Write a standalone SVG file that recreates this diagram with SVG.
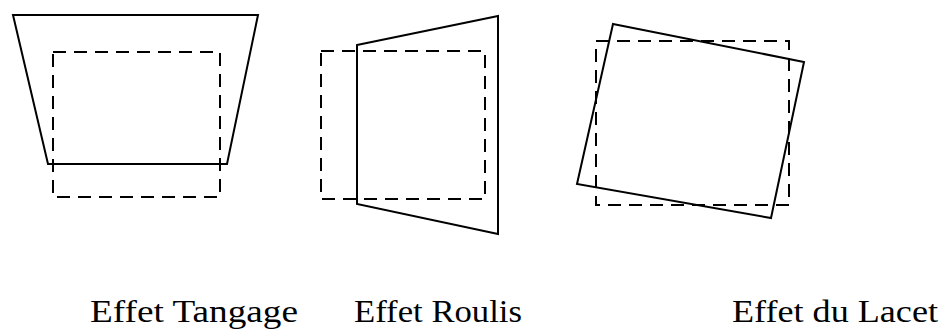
<svg xmlns="http://www.w3.org/2000/svg" width="946" height="332" viewBox="0 0 946 332">
<style>
.s{fill:none;stroke:#000;stroke-width:2;stroke-linejoin:miter}
.d{fill:none;stroke:#000;stroke-width:2;stroke-dasharray:13,8}
.t{font-family:"Liberation Serif","DejaVu Serif",serif;font-size:31px;fill:#000}
</style>
<rect width="946" height="332" fill="#fff"/>
<g id="tangage">
<rect class="d" x="53" y="52" width="167" height="145"/>
<polygon class="s" points="13,15 258,15 227,164 48,164"/>
<text class="t" x="90" y="322" textLength="208" lengthAdjust="spacingAndGlyphs">Effet Tangage</text>
</g>
<g id="roulis">
<rect class="d" x="321" y="51" width="164" height="148"/>
<polygon class="s" points="357,45 498,16 498,234 357,204"/>
<text class="t" x="354" y="322" textLength="168" lengthAdjust="spacingAndGlyphs">Effet Roulis</text>
</g>
<g id="lacet">
<rect class="d" x="596" y="41" width="193" height="164"/>
<polygon class="s" points="613,24 804,62 771,218 577,184"/>
<text class="t" x="732" y="322" textLength="206" lengthAdjust="spacingAndGlyphs">Effet du Lacet</text>
</g>
</svg>
